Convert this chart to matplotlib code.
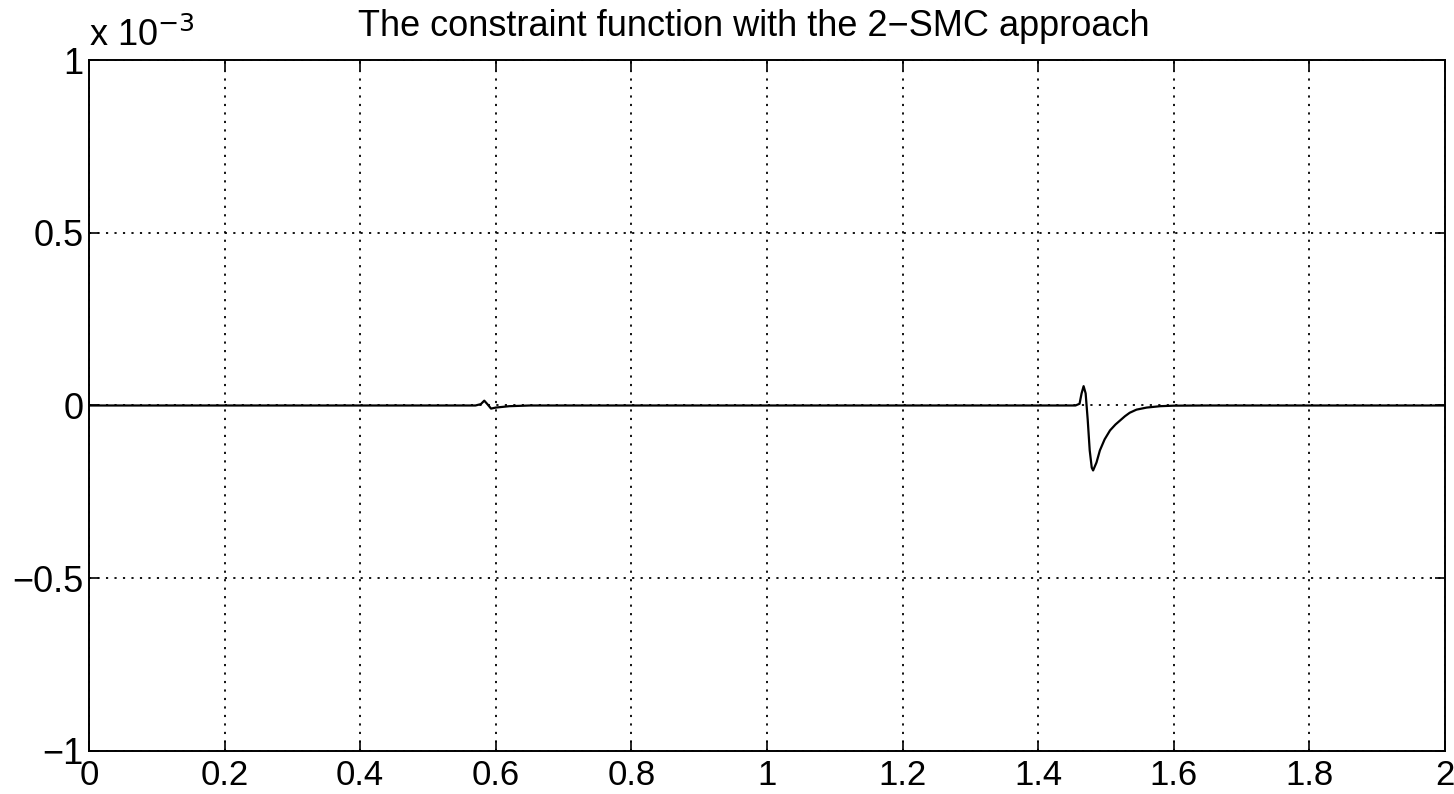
import numpy as np
import matplotlib.pyplot as plt

plt.rcParams['font.family'] = ['Liberation Sans', 'DejaVu Sans']

# constraint function, values in units of 1e-3
t = [0.0, 0.57, 0.578, 0.583, 0.588, 0.593, 0.60, 0.62, 0.65,
     1.455, 1.461, 1.464, 1.467, 1.470, 1.473, 1.476, 1.479, 1.481,
     1.486, 1.491, 1.498, 1.506, 1.514, 1.521, 1.528, 1.535, 1.545,
     1.56, 1.58, 1.60, 1.65, 2.0]
g = [0.0, 0.0, 0.004, 0.014, 0.003, -0.009, -0.006, -0.002, 0.0,
     0.0, 0.005, 0.035, 0.056, 0.035, -0.04, -0.13, -0.18, -0.188,
     -0.165, -0.13, -0.098, -0.072, -0.055, -0.043, -0.031, -0.021, -0.012,
     -0.006, -0.002, -0.0005, 0.0, 0.0]

xticks = [0, 0.2, 0.4, 0.6, 0.8, 1, 1.2, 1.4, 1.6, 1.8, 2]
xticklabels = ['0', '0.2', '0.4', '0.6', '0.8', '1', '1.2', '1.4', '1.6', '1.8', '2']
yticks = [-1, -0.5, 0, 0.5, 1]
yticklabels = ['\u22121', '\u22120.5', '0', '0.5', '1']

fig = plt.figure(figsize=(14.54, 7.94), dpi=100)
ax = fig.add_axes([0.0612, 0.0542, 0.9326, 0.8702])

ax.plot(t, g, color='black', linewidth=1.6)

ax.set_xlim(0, 2)
ax.set_ylim(-1, 1)
ax.set_xticks(xticks)
ax.set_xticklabels(xticklabels)
ax.set_yticks(yticks)
ax.set_yticklabels(yticklabels)
ax.tick_params(direction='in', length=7, width=1.2, labelsize=26,
               top=True, right=True, pad=4)
ax.tick_params(axis='x', pad=6, labelsize=25)
ax.grid(True, color='black', linestyle=(0, (1.2, 3.5)), linewidth=1.3)
for s in ax.spines.values():
    s.set_linewidth(1.4)

ax.set_title('The constraint function with the 2\u2212SMC approach', fontsize=26,
             pad=17, x=0.49)
ax.text(0.0, 1.008, 'x 10$^{-3}$', transform=ax.transAxes, fontsize=26,
        ha='left', va='bottom')

fig.savefig('out.png', dpi=100)
